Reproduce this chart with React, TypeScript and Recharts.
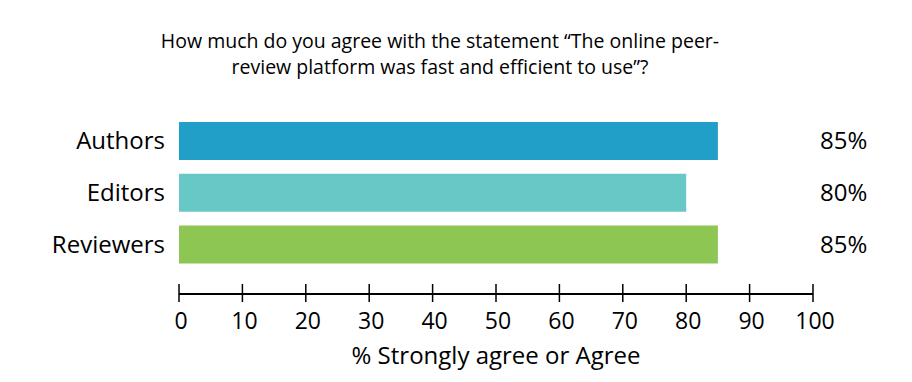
import React from 'react'
import { BarChart, Bar, XAxis, YAxis, Cell } from 'recharts'

const groups = ['Authors', 'Editors', 'Reviewers']
const agreePct = [85, 80, 85]
const barColors = ['#219fc8', '#68c8c6', '#8dc653']
const xTicks = [0, 10, 20, 30, 40, 50, 60, 70, 80, 90, 100]

const data = groups.map((g, i) => ({ name: g, value: agreePct[i], label: `${agreePct[i]}%` }))

const FONT = '"Open Sans", sans-serif'

const AxisTick = (props: any) => {
  const { x, y, payload } = props
  return (
    <g>
      <line x1={x} x2={x} y1={y - 10} y2={y + 8} stroke="#000" strokeWidth={1.5} />
      <text x={x + 2} y={y + 35} textAnchor="middle" fontSize={23} fill="#000" fontFamily={FONT}>
        {payload.value}
      </text>
    </g>
  )
}

const App = () => {
  return (
    <div style={{ position: 'absolute', left: 0, top: 0, width: 912, height: 382, background: '#fff' }}>
      <div
        style={{
          position: 'absolute',
          top: 28,
          left: 0,
          width: 880,
          textAlign: 'center',
          fontFamily: FONT,
          fontSize: 19.5,
          lineHeight: '26px',
          color: '#000',
        }}
      >
        How much do you agree with the statement “The online peer-
        <br />
        review platform was fast and efficient to use”?
      </div>
      <BarChart
        width={912}
        height={382}
        data={data}
        layout="vertical"
        margin={{ top: 115, right: 0, bottom: 48, left: 0 }}
      >
        <XAxis
          type="number"
          domain={[0, 100]}
          ticks={xTicks}
          interval={0}
          tickLine={false}
          tickSize={0}
          tickMargin={0}
          axisLine={{ stroke: '#000', strokeWidth: 2 }}
          tick={<AxisTick />}
          height={40}
          label={{
            value: '% Strongly agree or Agree',
            position: 'bottom',
            offset: 13,
            fontSize: 24,
            fill: '#000',
            fontFamily: FONT,
          }}
        />
        <YAxis
          yAxisId="left"
          type="category"
          dataKey="name"
          width={179}
          axisLine={false}
          tickLine={false}
          tickSize={0}
          tickMargin={14}
          padding={{ top: 0, bottom: 23.7 }}
          tick={{ fontSize: 24, fill: '#000', fontFamily: FONT }}
        />
        <YAxis
          yAxisId="right"
          orientation="right"
          type="category"
          dataKey="label"
          width={99}
          axisLine={false}
          tickLine={false}
          tickSize={0}
          tickMargin={7}
          padding={{ top: 0, bottom: 23.7 }}
          tick={{ fontSize: 24, fill: '#000', fontFamily: FONT }}
        />
        <Bar dataKey="value" yAxisId="left" barSize={38} isAnimationActive={false}>
          {data.map((d, i) => (
            <Cell key={d.name} fill={barColors[i]} />
          ))}
        </Bar>
      </BarChart>
    </div>
  )
}

export default App
